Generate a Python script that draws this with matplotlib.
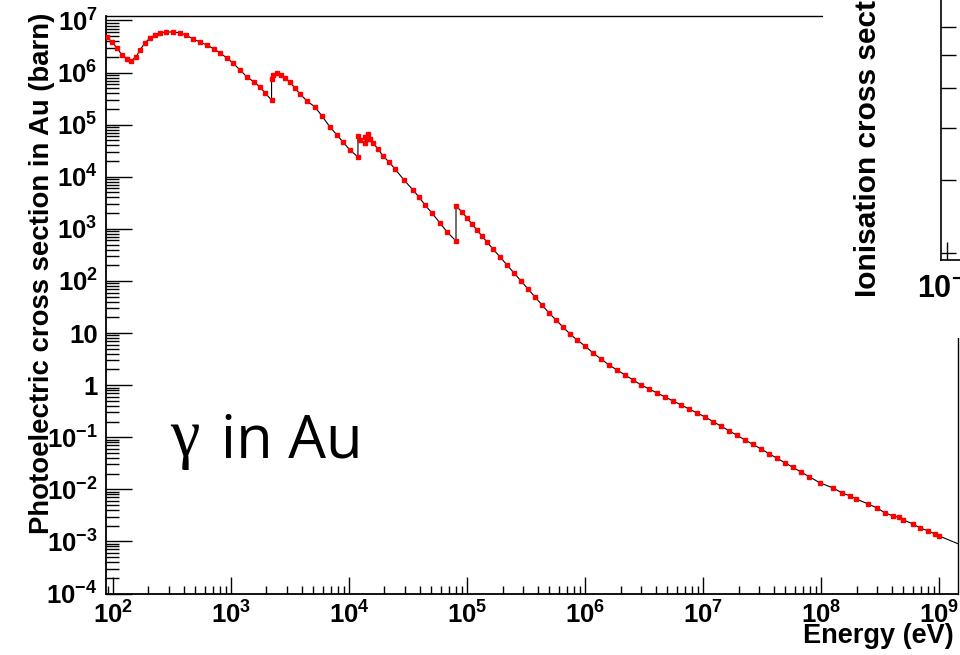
import numpy as np
import matplotlib
matplotlib.use('Agg')
import matplotlib.pyplot as plt
from matplotlib.ticker import LogLocator, FuncFormatter, FixedLocator, NullFormatter, NullLocator

plt.rcParams['font.family'] = ['Liberation Sans', 'DejaVu Sans']
plt.rcParams['font.weight'] = 'bold'
plt.rcParams['mathtext.fontset'] = 'custom'
plt.rcParams['mathtext.rm'] = 'Liberation Sans:bold'
plt.rcParams['mathtext.it'] = 'Liberation Sans:bold'
plt.rcParams['mathtext.bf'] = 'Liberation Sans:bold'

# photoelectric cross section of gold (log10 of eV / barn)
# segments split at the absorption edges M5, L3 (+L2, L1), K
loge_m = [1.949, 1.992, 2.034, 2.076, 2.119, 2.153, 2.195, 2.229, 2.271, 2.314,
          2.356, 2.398, 2.449, 2.508, 2.568, 2.619, 2.678, 2.737, 2.797, 2.856,
          2.907, 2.966, 3.017, 3.076, 3.136, 3.195, 3.246, 3.288, 3.344]
logs_m = [6.683, 6.587, 6.472, 6.338, 6.261, 6.223, 6.299, 6.434, 6.568, 6.664,
          6.722, 6.760, 6.779, 6.779, 6.760, 6.722, 6.645, 6.587, 6.530, 6.453,
          6.376, 6.280, 6.184, 6.050, 5.916, 5.820, 5.724, 5.608, 5.474]

loge_l = [3.344, 3.356, 3.390, 3.424, 3.458, 3.500, 3.542, 3.585, 3.644, 3.712,
          3.771, 3.839, 3.898, 3.949, 4.008, 4.076]
logs_l = [5.877, 5.954, 5.992, 5.954, 5.896, 5.820, 5.704, 5.589, 5.455, 5.340,
          5.167, 4.956, 4.802, 4.668, 4.514, 4.380]

loge_k = [4.076, 4.093, 4.138, 4.138, 4.157, 4.157, 4.178, 4.203, 4.246, 4.288,
          4.339, 4.390, 4.466, 4.542, 4.593, 4.644, 4.703, 4.771, 4.831, 4.907]
logs_k = [4.783, 4.706, 4.649, 4.764, 4.726, 4.822, 4.726, 4.649, 4.534, 4.399,
          4.284, 4.150, 3.939, 3.747, 3.612, 3.459, 3.305, 3.113, 2.940, 2.768]

loge_hi = [4.907, 4.958, 5.000, 5.042, 5.085, 5.127, 5.169, 5.220, 5.280, 5.339,
           5.398, 5.458, 5.517, 5.576, 5.636, 5.695, 5.754, 5.814, 5.873, 5.932,
           6.000, 6.068, 6.136, 6.203, 6.271, 6.339, 6.407, 6.475, 6.542, 6.610,
           6.678, 6.746, 6.814, 6.881, 6.949, 7.017, 7.085, 7.153, 7.220, 7.288,
           7.356, 7.424, 7.492, 7.559, 7.627, 7.695, 7.763, 7.831, 7.898, 7.992,
           8.102, 8.178, 8.246, 8.297, 8.398, 8.475, 8.542, 8.610, 8.661, 8.695,
           8.780, 8.839, 8.907, 8.966, 9.000, 9.246]
logs_hi = [3.440, 3.324, 3.209, 3.094, 2.979, 2.864, 2.749, 2.614, 2.461, 2.307,
           2.154, 2.000, 1.846, 1.693, 1.539, 1.386, 1.251, 1.117, 0.983, 0.868,
           0.752, 0.618, 0.503, 0.388, 0.292, 0.196, 0.100, 0.004, -0.073, -0.150,
           -0.227, -0.303, -0.380, -0.457, -0.534, -0.610, -0.699, -0.787, -0.875, -0.964,
           -1.052, -1.138, -1.225, -1.315, -1.403, -1.493, -1.580, -1.666, -1.756, -1.877,
           -1.973, -2.069, -2.127, -2.184, -2.280, -2.357, -2.453, -2.511, -2.539, -2.587,
           -2.664, -2.741, -2.798, -2.856, -2.894, -3.125]

energy = 10 ** np.array(loge_m + loge_l + loge_k + loge_hi)
sigma = 10 ** np.array(logs_m + logs_l + logs_k + logs_hi)

W, H = 960, 655
fig = plt.figure(figsize=(W / 100, H / 100), dpi=100)
ax = fig.add_axes([106 / W, 1 - 593.5 / H, (958 - 106) / W, (593.5 - 16) / H])

ax.plot(energy, sigma, color='black', lw=0.8, marker='s', ms=3.2,
        mfc='red', mec='red', zorder=3)

ax.set_xscale('log')
ax.set_yscale('log')
ax.set_xlim(10 ** 1.941, 10 ** 9.161)
ax.set_ylim(1e-4, 10 ** 7.086)


def pow_label(v, pos):
    k = int(round(np.log10(v)))
    if k == 0:
        return '1'
    if k == 1:
        return '10'
    return r'$10^{%d}$' % k


def pow_label_x(v, pos):
    k = int(round(np.log10(v)))
    return r'$10^{%d}$' % k


for axis in (ax.xaxis, ax.yaxis):
    axis.set_major_locator(LogLocator(base=10, numticks=30))
    axis.set_minor_locator(LogLocator(base=10, subs=np.arange(2, 10), numticks=300))
    axis.set_minor_formatter(NullFormatter())
ax.xaxis.set_major_formatter(FuncFormatter(pow_label_x))
ax.yaxis.set_major_formatter(FuncFormatter(pow_label))

ax.tick_params(which='both', direction='in', top=False, right=False, width=1, labelsize=18.5)
ax.tick_params(axis='x', which='major', length=12, pad=6)
ax.tick_params(axis='x', which='minor', length=6)
ax.tick_params(axis='y', which='major', length=19, pad=6)
ax.tick_params(axis='y', which='minor', length=9.5)
for s in ('left', 'bottom'):
    ax.spines[s].set_linewidth(1.3)
for s in ('top', 'right'):
    ax.spines[s].set_linewidth(1.0)

fig.text(42 / W, 1 - 13 / H, 'Photoelectric cross section in Au (barn)', rotation=90,
         ha='center', va='top', fontsize=19.8, weight='bold')
fig.text(954 / W, 1 - 636 / H, 'Energy (eV)', ha='right', va='center',
         fontsize=19.5, weight='bold')

fig.text(170 / W, 1 - 456 / H, 'γ', family=['Liberation Serif', 'DejaVu Serif'],
         fontsize=48, weight='normal', va='baseline')
fig.text(221 / W, 1 - 457 / H, 'in Au', family=['Open Sans', 'DejaVu Sans'],
         fontsize=43, weight='normal', va='baseline')

# piece of the neighbouring ionisation plot pasted over the top right corner
cover = fig.add_axes([823 / W, 1 - 338 / H, (W - 823) / W, 338 / H], zorder=5)
cover.set_facecolor('white')
cover.set_xticks([])
cover.set_yticks([])
for s in cover.spines.values():
    s.set_visible(False)

ion_ticks = [2, 3, 4, 5, 6, 7]
ax2 = fig.add_axes([940.7 / W, 1 - 260 / H, 100 / W, 300 / H], zorder=6)
ax2.patch.set_alpha(0)
ax2.set_yscale('log')
ax2.set_ylim(1.924, 10.16)
ax2.yaxis.set_major_locator(FixedLocator(ion_ticks))
ax2.yaxis.set_major_formatter(NullFormatter())
ax2.yaxis.set_minor_locator(NullLocator())
ax2.set_xscale('log')
ax2.set_xlim(10 ** -1.05, 10 ** -0.2)
ax2.xaxis.set_major_locator(FixedLocator([0.1]))
ax2.xaxis.set_major_formatter(FuncFormatter(pow_label_x))
ax2.xaxis.set_minor_locator(NullLocator())
ax2.tick_params(which='both', direction='in', length=11, width=1, labelsize=22, pad=10)
ax2.tick_params(axis='x', length=13)
for s in ('top', 'right'):
    ax2.spines[s].set_visible(False)
for s in ('left', 'bottom'):
    ax2.spines[s].set_linewidth(1.2)
fig.text(868 / W, 1 - 297 / H, 'Ionisation cross section (barn)', rotation=90,
         ha='center', va='bottom', fontsize=21.5, weight='bold', zorder=7)

fig.savefig('out.png', dpi=100)
